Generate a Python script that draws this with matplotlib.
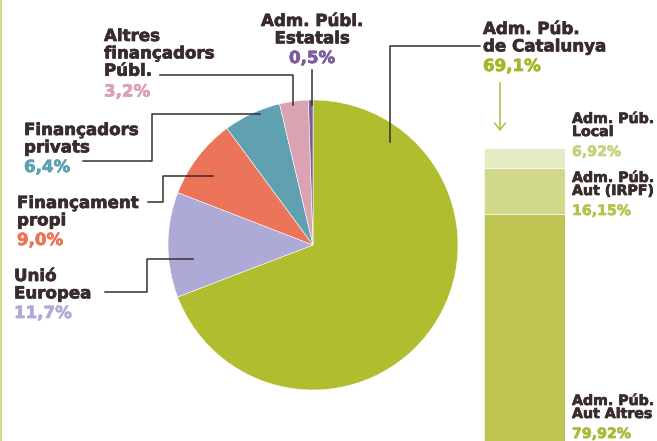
import matplotlib.pyplot as plt
from matplotlib.lines import Line2D
from matplotlib.patches import FancyArrowPatch
import matplotlib.patheffects as pe

# Pie: funding sources (%), clockwise from the top
sources = ['Adm. Púb.\nde Catalunya', 'Unió\nEuropea', 'Finançament\npropi',
           'Finançadors\nprivats', 'Altres\nfinançadors\nPúbl.', 'Adm. Públ.\nEstatals']
shares = [69.1, 11.7, 9.0, 6.4, 3.2, 0.5]
pie_colors = ['#afbd2e', '#aeaad8', '#ec7458', '#5fa0b1', '#d9a3b2', '#7c5c9c']

# Breakdown of Adm. Púb. de Catalunya (%), bottom to top
parts = ['Adm. Púb.\nAut Altres', 'Adm. Púb.\nAut (IRPF)', 'Adm. Púb.\nLocal']
part_values = [79.92, 16.15, 6.92]
bar_colors = ['#bec553', '#d1d88b', '#e5ebc4']
part_text_colors = ['#aab93a', '#b5c350', '#c5d27e']

W, H = 657, 441
dark = '#3a2c2c'
font = 'DejaVu Sans'

fig = plt.figure(figsize=(W / 100, H / 100), dpi=100)


def fx(x):
    return x / W


def fy(y):
    return 1 - y / H


def line(points):
    xs = [fx(p[0]) for p in points]
    ys = [fy(p[1]) for p in points]
    fig.add_artist(Line2D(xs, ys, color=dark, lw=1.1, transform=fig.transFigure))


def label(x, y, name, value, color, ha='left', size=12, step=18.5, gap=0,
          pct='{:.1f}%'):
    ls = step / (size * 100 / 72 * 1.164)
    fig.text(fx(x), fy(y), name, ha=ha, va='top', fontsize=size, family=font,
             weight='bold', color=dark, linespacing=ls,
             path_effects=[pe.withStroke(linewidth=0.5, foreground=dark)])
    nlines = name.count('\n') + 1
    fig.text(fx(x), fy(y + nlines * step + gap), pct.format(value).replace('.', ','),
             ha=ha, va='top', fontsize=size, family=font, weight='bold', color=color,
             path_effects=[pe.withStroke(linewidth=0.5, foreground=color)])


# pie
cx, cy, r = 313, 245, 145
ax = fig.add_axes([fx(cx - r), fy(cy + r), 2 * r / W, 2 * r / H])
ax.pie(shares, colors=pie_colors, startangle=90, counterclock=False,
       wedgeprops=dict(edgecolor='white', linewidth=0.4))
ax.set_xlim(-1, 1)
ax.set_ylim(-1, 1)
ax.axis('off')

# stacked bar
bx = fig.add_axes([fx(484), 0, 81 / W, (H - 148) / H])
bottom = 0
for v, c in zip(part_values, bar_colors):
    bx.bar(0, v, bottom=bottom, color=c, width=1, edgecolor='white', linewidth=0.4)
    bottom += v
bx.set_xlim(-0.5, 0.5)
bx.set_ylim(0, sum(part_values))
bx.axis('off')

# leader lines
line([(390, 142), (390, 46), (480, 46)])
line([(312, 70), (312, 105)])
line([(160, 75), (293, 75), (293, 105)])
line([(260, 114), (152, 114), (152, 161), (83, 161)])
line([(213, 176), (163, 176), (163, 202), (148, 202)])
line([(193, 259), (147, 259), (147, 292), (105, 292)])

# pie labels
label(483, 20, sources[0], shares[0], '#a6b52a')
label(14, 267, sources[1], shares[1], pie_colors[1])
label(17, 194, sources[2], shares[2], pie_colors[2])
label(24, 121, sources[3], shares[3], pie_colors[3])
label(104, 27, sources[4], shares[4], pie_colors[4])
label(312, 12, sources[5], shares[5], pie_colors[5], ha='center')

# bar labels
bar_kw = dict(size=10.2, step=15, gap=3, pct='{:.2f}%')
label(572, 112, parts[2], part_values[2], part_text_colors[2], **bar_kw)
label(572, 171, parts[1], part_values[1], part_text_colors[1], **bar_kw)
label(572, 394, parts[0], part_values[0], part_text_colors[0], **bar_kw)

# arrow into the bar
fig.add_artist(FancyArrowPatch(
    (fx(500), fy(80)), (fx(500), fy(134)), transform=fig.transFigure,
    arrowstyle='->,head_length=5,head_width=4', color='#b3c155', lw=1.2))

# thin green rule at the left edge
fig.add_artist(Line2D([0.002, 0.002], [0, 1], color='#d3dc8c', lw=1.5,
                      transform=fig.transFigure))

fig.savefig('out.png', dpi=100)
